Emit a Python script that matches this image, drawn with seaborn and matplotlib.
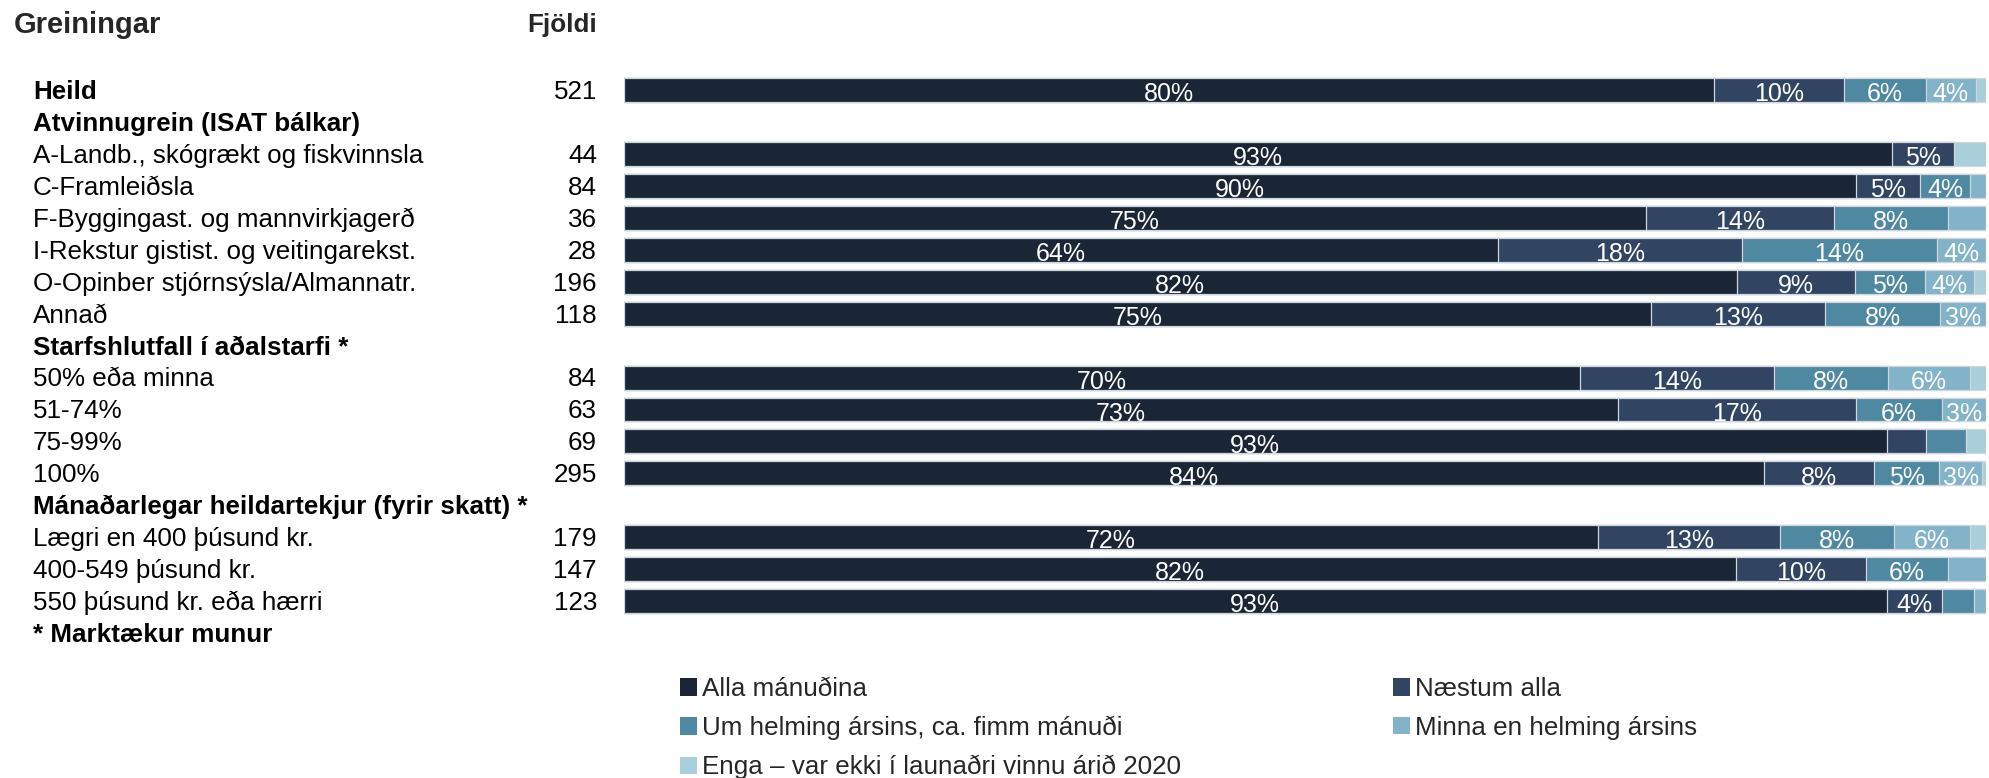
import numpy as np
import pandas as pd
import matplotlib
matplotlib.use("Agg")
import matplotlib.pyplot as plt
import seaborn as sns
from matplotlib.patches import Patch
from matplotlib.transforms import blended_transform_factory

# ---------------- data ----------------
rows = [
    "Heild",
    "Atvinnugrein (ISAT bálkar)",
    "A-Landb., skógrækt og fiskvinnsla",
    "C-Framleiðsla",
    "F-Byggingast. og mannvirkjagerð",
    "I-Rekstur gistist. og veitingarekst.",
    "O-Opinber stjórnsýsla/Almannatr.",
    "Annað",
    "Starfshlutfall í aðalstarfi *",
    "50% eða minna",
    "51-74%",
    "75-99%",
    "100%",
    "Mánaðarlegar heildartekjur (fyrir skatt) *",
    "Lægri en 400 þúsund kr.",
    "400-549 þúsund kr.",
    "550 þúsund kr. eða hærri",
    "* Marktækur munur",
]
bold_rows = [
    "Heild",
    "Atvinnugrein (ISAT bálkar)",
    "Starfshlutfall í aðalstarfi *",
    "Mánaðarlegar heildartekjur (fyrir skatt) *",
    "* Marktækur munur",
]
bar_rows = [
    "Heild",
    "A-Landb., skógrækt og fiskvinnsla",
    "C-Framleiðsla",
    "F-Byggingast. og mannvirkjagerð",
    "I-Rekstur gistist. og veitingarekst.",
    "O-Opinber stjórnsýsla/Almannatr.",
    "Annað",
    "50% eða minna",
    "51-74%",
    "75-99%",
    "100%",
    "Lægri en 400 þúsund kr.",
    "400-549 þúsund kr.",
    "550 þúsund kr. eða hærri",
]
counts = [521, 44, 84, 36, 28, 196, 118, 84, 63, 69, 295, 179, 147, 123]

series_names = [
    "Alla mánuðina",
    "Næstum alla",
    "Um helming ársins, ca. fimm mánuði",
    "Minna en helming ársins",
    "Enga – var ekki í launaðri vinnu árið 2020",
]
alla = [80.05, 93.13, 90.48, 75.07, 64.2, 81.7, 75.4, 70.23, 73.0, 92.71, 83.73, 71.52, 81.66, 92.71]
naestum = [9.53, 4.52, 4.68, 13.76, 17.9, 8.7, 12.8, 14.21, 17.45, 2.91, 8.04, 13.37, 9.53, 4.07]
um_helming = [6.01, 0.0, 3.68, 8.40, 14.3, 5.1, 8.4, 8.37, 6.33, 2.91, 4.81, 8.33, 6.01, 2.36]
minna = [3.65, 0.0, 1.16, 2.77, 3.6, 3.6, 3.4, 6.04, 3.22, 0.0, 3.13, 5.59, 2.8, 0.86]
enga = [0.76, 2.35, 0.0, 0.0, 0.0, 0.9, 0.0, 1.15, 0.0, 1.47, 0.29, 1.19, 0.0, 0.0]

colors = ["#1a2636", "#314563", "#4f88a1", "#82b3c9", "#a9d0da"]
edge = "#cfd6dd"

# ---------------- figure ----------------
sns.set_style("white")
plt.rcParams["font.family"] = ["Liberation Sans", "DejaVu Sans"]

W, H = 1990, 778
fig = plt.figure(figsize=(W / 100, H / 100), dpi=100)

pitch = 31.95
y0 = 90.0
top_px = y0 - 0.5 * pitch
bot_px = y0 + (len(rows) - 0.5) * pitch
left_px, right_px = 623.6, 1986.0
ax = fig.add_axes([left_px / W, 1 - bot_px / H, (right_px - left_px) / W, (bot_px - top_px) / H])

series = [alla, naestum, um_helming, minna, enga]
cum = np.cumsum(np.array(series), axis=0)
df = pd.DataFrame({"row": bar_rows})
for k in range(4, -1, -1):
    df["cum%d" % k] = cum[k]
    sns.barplot(
        data=df, x="cum%d" % k, y="row", order=rows, orient="h",
        color=colors[k], saturation=1, width=0.75, errorbar=None,
        edgecolor=edge, linewidth=0.9, ax=ax,
    )

ax.set_xlim(0, 100)
ax.set_ylim(len(rows) - 0.5, -0.5)
ax.set_axis_off()

# segment labels
for i, r in enumerate(bar_rows):
    yi = rows.index(r)
    start = 0.0
    for k in range(5):
        v = series[k][i]
        if v >= 3.0:
            ax.text(start + v / 2, yi + 0.13, f"{v:.0f}%", ha="center", va="center",
                    color="white", fontsize=18)
        start += v

# row labels and counts
trans = blended_transform_factory(fig.transFigure, ax.transData)
for yi, r in enumerate(rows):
    ax.text(33 / W, yi + 0.06, r, transform=trans, ha="left", va="center", fontsize=18.7,
            fontweight="bold" if r in bold_rows else "normal", color="black")
for r, c in zip(bar_rows, counts):
    ax.text(597 / W, rows.index(r) + 0.06, str(c), transform=trans, ha="right", va="center",
            fontsize=18.7, color="black")

fig.text(14 / W, 1 - 25 / H, "Greiningar", ha="left", va="center", fontsize=21,
         fontweight="bold")
fig.text(597 / W, 1 - 25 / H, "Fjöldi", ha="right", va="center", fontsize=18.7,
         fontweight="bold")

# legend (two columns, filled row-wise)
handles = [Patch(facecolor=c, edgecolor="none") for c in colors]
leg_kw = dict(frameon=False, fontsize=18.7, handlelength=0.65, handleheight=0.65,
              handletextpad=0.2, labelspacing=0.57, borderpad=0, borderaxespad=0,
              loc="upper left")
leg1 = fig.legend([handles[0], handles[2], handles[4]],
                  [series_names[0], series_names[2], series_names[4]],
                  bbox_to_anchor=(680 / W, 1 - 677 / H), **leg_kw)
leg2 = fig.legend([handles[1], handles[3]], [series_names[1], series_names[3]],
                  bbox_to_anchor=(1393 / W, 1 - 677 / H), **leg_kw)

fig.savefig("out.png", dpi=100)
